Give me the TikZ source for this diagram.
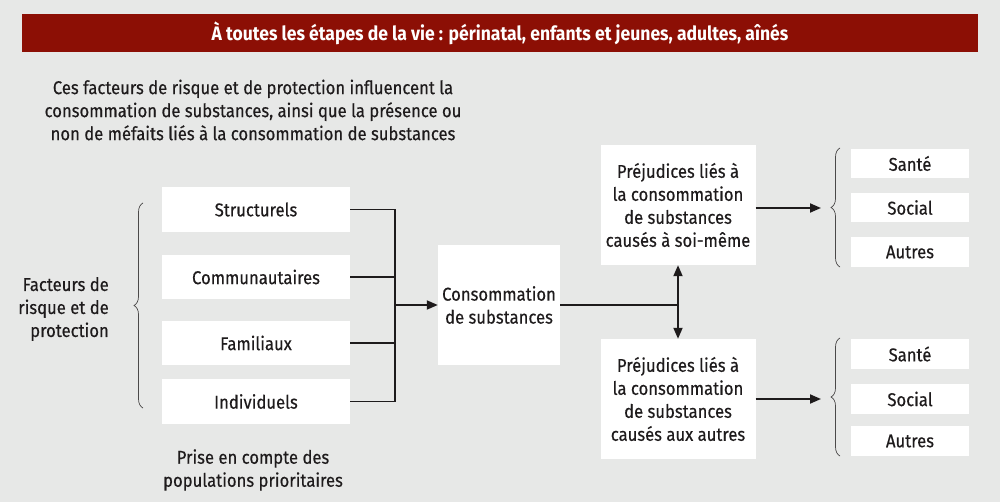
\documentclass[tikz,border=0pt]{standalone}
\usepackage{fontspec}
\setmainfont[FakeStretch=0.9,UprightFeatures={FakeBold=0.4}]{Fira Sans}
\usetikzlibrary{arrows.meta,decorations.pathreplacing}
\definecolor{bgColor}{RGB}{231,232,231}
\definecolor{bannerColor}{RGB}{140,15,5}
\definecolor{inkColor}{RGB}{30,27,28}
\tikzset{
  box/.style={fill=white,inner sep=0pt,align=center,text=inkColor,font=\fontsize{18.5}{23}\selectfont},
  link/.style={draw=inkColor,line width=1.8pt},
  arr/.style={link,-{Triangle[length=11pt,width=9pt]}},
  brc/.style={draw=inkColor!80,line width=0.7pt,decorate,decoration={brace,amplitude=9pt}},
  lbl/.style={inner sep=0pt,text=inkColor,font=\fontsize{18.5}{23}\selectfont}
}
\begin{document}
\begin{tikzpicture}[x=1pt,y=-1pt]
\path[use as bounding box,fill=bgColor] (0,0) rectangle (1000,502);

% banner
\node[fill=bannerColor,minimum width=956pt,minimum height=38pt,inner sep=0pt,text=white,
  font=\fontsize{19.5}{23}\selectfont\bfseries] (banner) at (500,33)
  {À toutes les étapes de la vie : périnatal, enfants et jeunes, adultes, aînés};

\node[lbl,align=center] (intro) at (253,110)
  {Ces facteurs de risque et de protection influencent la\\
   consommation de substances, ainsi que la présence ou\\
   non de méfaits liés à la consommation de substances};

% facteurs
\node[lbl,align=right,anchor=east] (facteurs) at (109,309) {Facteurs de\\risque et de\\protection};
\node[box,minimum width=188pt,minimum height=45pt] (str) at (256,209.5) {Structurels};
\node[box,minimum width=188pt,minimum height=44pt] (com) at (256,277) {Communautaires};
\node[box,minimum width=188pt,minimum height=44pt] (fam) at (256,343) {Familiaux};
\node[box,minimum width=188pt,minimum height=45pt] (ind) at (256,401.5) {Individuels};
\node[lbl,align=center] (prise) at (253,470) {Prise en compte des\\populations prioritaires};
\draw[brc] (143,408) -- (143,203);

\node[box,minimum width=122pt,minimum height=120pt] (cons) at (499,305) {Consommation\\de substances};
\coordinate (join) at (395,305);
\draw[link] (str.east) -| (join);
\draw[link] (ind.east) -| (join);
\draw[link] (com.east) -- (com.east -| join);
\draw[link] (fam.east) -- (fam.east -| join);
\draw[arr] (join) -- (cons.west);

% prejudices
\node[box,minimum width=155pt,minimum height=120pt] (self) at (678,205)
  {Préjudices liés à\\la consommation\\de substances\\causés à soi-même};
\node[box,minimum width=155pt,minimum height=120pt] (oth) at (678,399)
  {Préjudices liés à\\la consommation\\de substances\\causés aux autres};
\coordinate (split) at (cons.east -| self.south);
\draw[link] (cons.east) -- (split);
\draw[arr] (split) -- (self.south);
\draw[arr] (split) -- (oth.north);

% consequences
\node[box,minimum width=118pt,minimum height=29pt] (santeA) at (910,163.5) {Santé};
\node[box,minimum width=118pt,minimum height=29pt] (socialA) at (910,207.5) {Social};
\node[box,minimum width=118pt,minimum height=30pt] (autresA) at (910,252) {Autres};
\node[box,minimum width=118pt,minimum height=30pt] (santeB) at (910,354) {Santé};
\node[box,minimum width=118pt,minimum height=30pt] (socialB) at (910,399) {Social};
\node[box,minimum width=118pt,minimum height=30pt] (autresB) at (910,441) {Autres};
\coordinate (tipA) at (821,208);
\coordinate (tipB) at (821,399);
\draw[arr] (self.east |- tipA) -- (tipA);
\draw[arr] (oth.east |- tipB) -- (tipB);
\draw[brc] (840,267) -- (840,148);
\draw[brc] (840,456) -- (840,338);
\end{tikzpicture}
\end{document}
